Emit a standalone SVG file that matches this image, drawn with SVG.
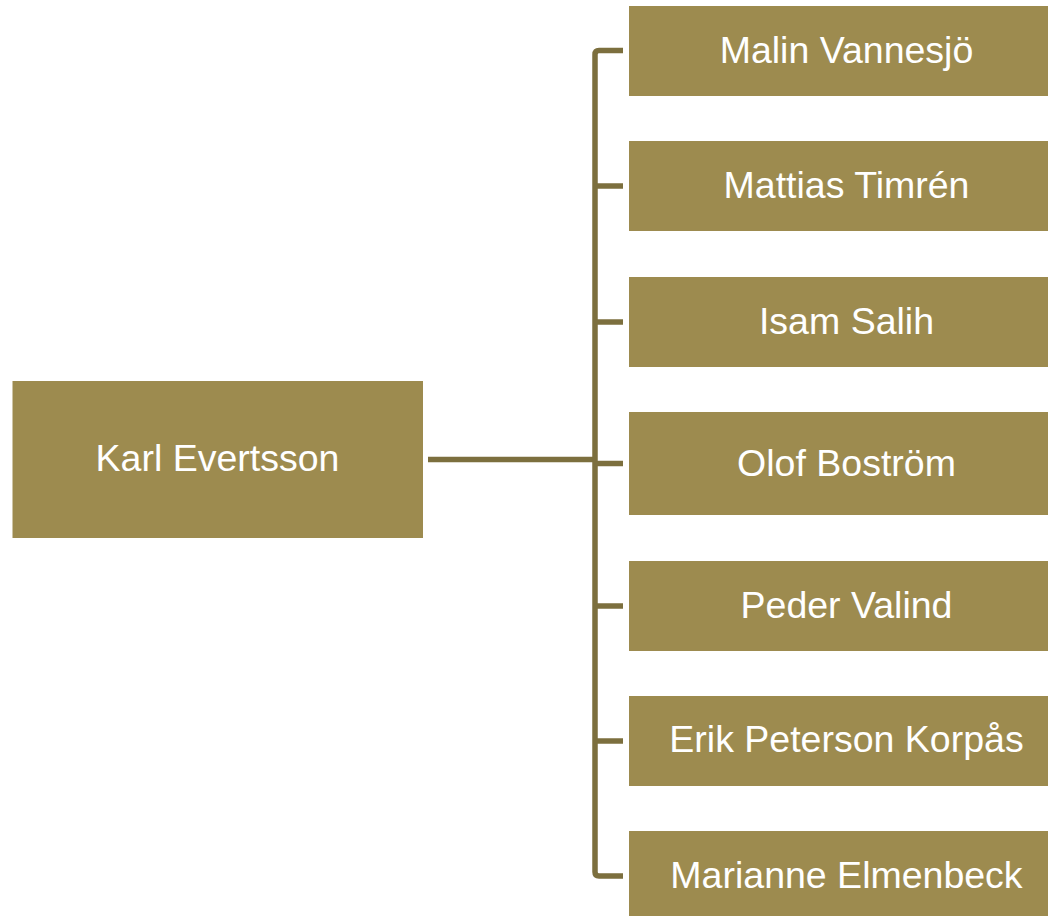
<svg xmlns="http://www.w3.org/2000/svg" width="1048" height="916" viewBox="0 0 1048 916">
<style>
.box{fill:#9d8b4f}
.lbl{font-family:"Liberation Sans",Arial,sans-serif;font-size:37.5px;fill:#ffffff;text-anchor:middle}
.conn{fill:none;stroke:#7c6f3e;stroke-width:5.5}
</style>
<rect width="1048" height="916" fill="#ffffff"/>
<g id="connectors">
<path class="conn" d="M428,459.5 H595"/>
<path class="conn" d="M623,50.5 H599 Q595,50.5 595,54.5 V872 Q595,876 599,876 H623"/>
<path class="conn" d="M595,186 H623"/>
<path class="conn" d="M595,322 H623"/>
<path class="conn" d="M595,463.5 H623"/>
<path class="conn" d="M595,606 H623"/>
<path class="conn" d="M595,741 H623"/>
</g>
<g id="karl"><rect class="box" x="12.5" y="381" width="410.5" height="157"/><text class="lbl" x="217.5" y="471">Karl Evertsson</text></g>
<g id="malin"><rect class="box" x="629" y="6" width="419" height="90"/><text class="lbl" x="846.5" y="62.5">Malin Vannesjö</text></g>
<g id="mattias"><rect class="box" x="629" y="141" width="419" height="90"/><text class="lbl" x="846.5" y="198">Mattias Timrén</text></g>
<g id="isam"><rect class="box" x="629" y="277" width="419" height="90"/><text class="lbl" x="846.5" y="333.5">Isam Salih</text></g>
<g id="olof"><rect class="box" x="629" y="412" width="419" height="103"/><text class="lbl" x="846.5" y="475.5">Olof Boström</text></g>
<g id="peder"><rect class="box" x="629" y="561" width="419" height="90"/><text class="lbl" x="846.5" y="617.5">Peder Valind</text></g>
<g id="erik"><rect class="box" x="629" y="696" width="419" height="90"/><text class="lbl" x="846.5" y="752">Erik Peterson Korpås</text></g>
<g id="marianne"><rect class="box" x="629" y="831" width="419" height="90"/><text class="lbl" x="846.5" y="887.5">Marianne Elmenbeck</text></g>
</svg>
